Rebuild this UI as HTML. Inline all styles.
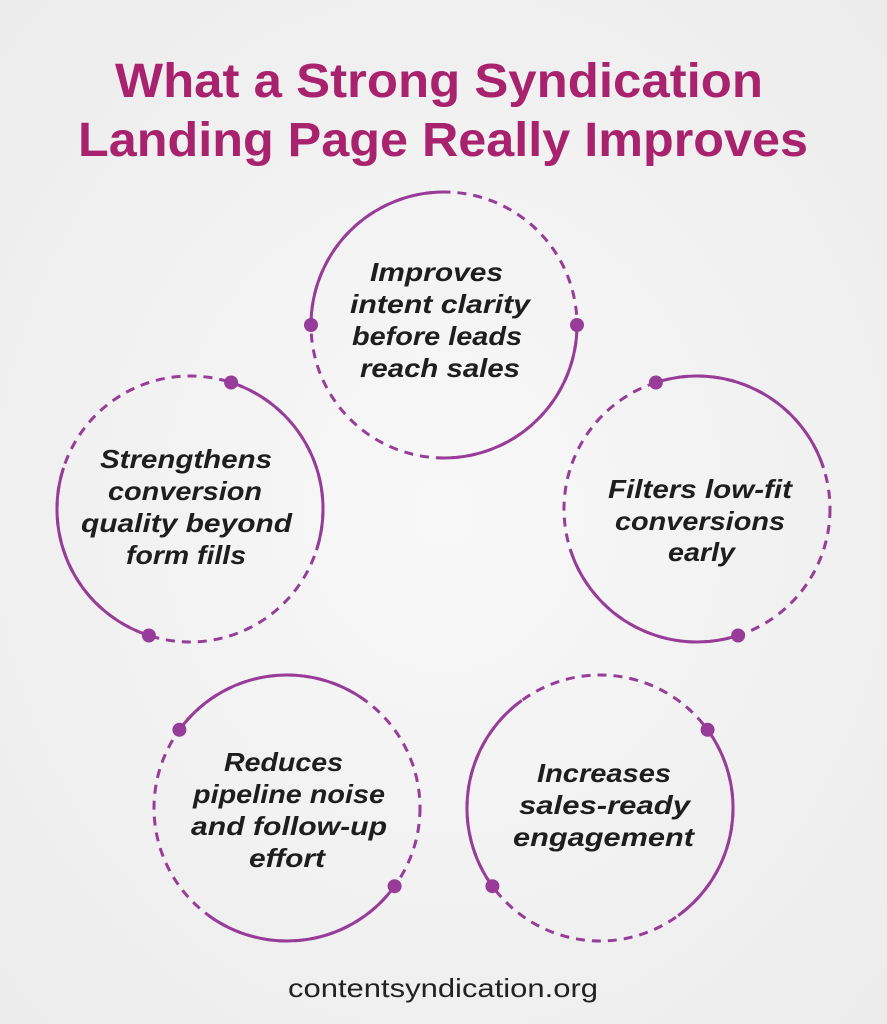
<!DOCTYPE html>
<html><head><meta charset="utf-8"><style>
html,body{margin:0;padding:0;background:#f1f1f1}
svg{display:block}
.t{font-family:"Liberation Sans",sans-serif;font-weight:bold;fill:#a8226e}
.c{font-family:"Liberation Sans",sans-serif;font-weight:bold;font-style:italic;fill:#1e1e1e;font-size:26px}
.d{fill:none;stroke:#973c98;stroke-width:3;stroke-dasharray:9 7}
.s{fill:none;stroke:#973c98;stroke-width:3}
.p{fill:#973c98}
</style></head><body>
<svg width="887" height="1024" viewBox="0 0 887 1024" xmlns="http://www.w3.org/2000/svg">
<defs><radialGradient id="bg" cx="50%" cy="50%" r="70%"><stop offset="0" stop-color="#f8f8f8"/><stop offset="1" stop-color="#ececec"/></radialGradient></defs>
<rect width="887" height="1024" fill="url(#bg)"/>
<text class="t" x="115" y="97" font-size="48" textLength="648" lengthAdjust="spacingAndGlyphs">What a Strong Syndication</text>
<text class="t" x="78" y="156" font-size="48" textLength="730" lengthAdjust="spacingAndGlyphs">Landing Page Really Improves</text>

<circle class="d" cx="444" cy="325" r="133"/>
<path class="s" d="M311 325 A133 133 0 0 1 444 192"/>
<path class="s" d="M577 325 A133 133 0 0 1 444 458"/>
<circle class="p" cx="311" cy="325" r="7"/><circle class="p" cx="577" cy="325" r="7"/>
<text class="c" x="370" y="281" textLength="133" lengthAdjust="spacingAndGlyphs">Improves</text>
<text class="c" x="350" y="313" textLength="180" lengthAdjust="spacingAndGlyphs">intent clarity</text>
<text class="c" x="352" y="345" textLength="170" lengthAdjust="spacingAndGlyphs">before leads</text>
<text class="c" x="360" y="377" textLength="160" lengthAdjust="spacingAndGlyphs">reach sales</text>

<circle class="d" cx="190" cy="509" r="133"/>
<path class="s" d="M231.1 382.5 A133 133 0 0 1 316.5 550.1"/>
<path class="s" d="M148.9 635.5 A133 133 0 0 1 63.5 467.9"/>
<circle class="p" cx="231.1" cy="382.5" r="7"/><circle class="p" cx="148.9" cy="635.5" r="7"/>
<text class="c" x="100" y="468" textLength="172" lengthAdjust="spacingAndGlyphs">Strengthens</text>
<text class="c" x="108" y="500" textLength="154" lengthAdjust="spacingAndGlyphs">conversion</text>
<text class="c" x="81" y="532" textLength="211" lengthAdjust="spacingAndGlyphs">quality beyond</text>
<text class="c" x="126" y="564" textLength="120" lengthAdjust="spacingAndGlyphs">form fills</text>

<circle class="d" cx="697" cy="509" r="133"/>
<path class="s" d="M655.9 382.5 A133 133 0 0 1 823.5 467.9"/>
<path class="s" d="M738.1 635.5 A133 133 0 0 1 570.5 550.1"/>
<circle class="p" cx="655.9" cy="382.5" r="7"/><circle class="p" cx="738.1" cy="635.5" r="7"/>
<text class="c" x="608" y="498" textLength="184" lengthAdjust="spacingAndGlyphs">Filters low-fit</text>
<text class="c" x="615" y="530" textLength="170" lengthAdjust="spacingAndGlyphs">conversions</text>
<text class="c" x="668" y="561" textLength="67" lengthAdjust="spacingAndGlyphs">early</text>

<circle class="d" cx="287" cy="808" r="133"/>
<path class="s" d="M179.4 729.8 A133 133 0 0 1 365.2 700.4"/>
<path class="s" d="M394.6 886.2 A133 133 0 0 1 208.8 915.6"/>
<circle class="p" cx="179.4" cy="729.8" r="7"/><circle class="p" cx="394.6" cy="886.2" r="7"/>
<text class="c" x="224" y="771" textLength="119" lengthAdjust="spacingAndGlyphs">Reduces</text>
<text class="c" x="193" y="803" textLength="192" lengthAdjust="spacingAndGlyphs">pipeline noise</text>
<text class="c" x="191" y="835" textLength="196" lengthAdjust="spacingAndGlyphs">and follow-up</text>
<text class="c" x="249" y="867" textLength="76" lengthAdjust="spacingAndGlyphs">effort</text>

<circle class="d" cx="600" cy="808" r="133"/>
<path class="s" d="M707.6 729.8 A133 133 0 0 1 678.2 915.6"/>
<path class="s" d="M492.4 886.2 A133 133 0 0 1 521.8 700.4"/>
<circle class="p" cx="707.6" cy="729.8" r="7"/><circle class="p" cx="492.4" cy="886.2" r="7"/>
<text class="c" x="537" y="782" textLength="134" lengthAdjust="spacingAndGlyphs">Increases</text>
<text class="c" x="519" y="814" textLength="171" lengthAdjust="spacingAndGlyphs">sales-ready</text>
<text class="c" x="513" y="846" textLength="181" lengthAdjust="spacingAndGlyphs">engagement</text>

<text x="288" y="997" font-family="Liberation Sans, sans-serif" font-size="26" fill="#222" textLength="310" lengthAdjust="spacingAndGlyphs">contentsyndication.org</text>
</svg>
</body></html>
